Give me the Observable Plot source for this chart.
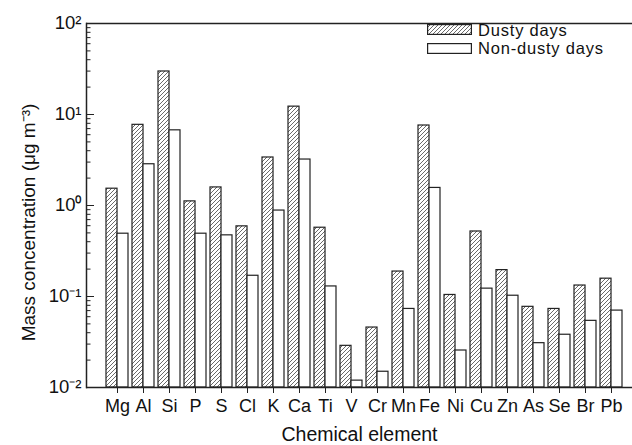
<!DOCTYPE html>
<html><head><meta charset="utf-8">
<script src="https://cdn.jsdelivr.net/npm/d3@7"></script>
<script src="https://cdn.jsdelivr.net/npm/@observablehq/plot@0.6"></script>
<style>
body{margin:0;background:#fff;font-family:"Liberation Sans",Arial,sans-serif;}
#wrap{position:relative;width:632px;height:445px;overflow:hidden;}
#legend{position:absolute;left:427px;top:20.5px;font-size:16.5px;letter-spacing:0.8px;color:#111;}
#legend div{display:flex;align-items:center;height:18.5px;line-height:18.5px;}
#legend svg{margin-right:6px;flex:none;}
</style></head>
<body>
<svg width="0" height="0" style="position:absolute">
  <defs>
    <pattern id="hatch" patternUnits="userSpaceOnUse" width="4" height="4">
      <path d="M-1,1 l2,-2 M0,4 l4,-4 M3,5 l2,-2" stroke="#444" stroke-width="0.8"/>
    </pattern>
  </defs>
</svg>
<div id="wrap">
  <div id="chart"></div>
  <div id="legend">
    <div><svg width="45" height="11"><rect x="0.6" y="0.6" width="43.8" height="9.8" fill="url(#hatch)" stroke="#222" stroke-width="1.2"/></svg>Dusty days</div>
    <div><svg width="45" height="11"><rect x="0.6" y="0.6" width="43.8" height="9.8" fill="#fff" stroke="#222" stroke-width="1.2"/></svg>Non-dusty days</div>
  </div>
</div>
<script>
const elements = ["Mg","Al","Si","P","S","Cl","K","Ca","Ti","V","Cr","Mn","Fe","Ni","Cu","Zn","As","Se","Br","Pb"];
const dusty    = [1.53, 7.7, 29.7, 1.11, 1.58, 0.59, 3.37, 12.2, 0.57, 0.0287, 0.0456, 0.188, 7.57, 0.104, 0.518, 0.195, 0.077, 0.073, 0.132, 0.157];
const nonDusty = [0.49, 2.84, 6.7, 0.49, 0.47, 0.169, 0.88, 3.2, 0.129, 0.0119, 0.0149, 0.073, 1.56, 0.0255, 0.122, 0.102, 0.0307, 0.038, 0.054, 0.070];
const yMajor = [0.01, 0.1, 1, 10, 100];
const yMajorLabels = ["10⁻²","10⁻¹","10⁰","10¹","10²"];
const yMinor = [];
for (const d of [0.01, 0.1, 1, 10]) for (let k = 2; k <= 9; k++) yMinor.push(+(d * k).toPrecision(3));

const dataD = elements.map((e, i) => ({element: e, value: dusty[i]}));
const dataN = elements.map((e, i) => ({element: e, value: nonDusty[i]}));

const font = '"Liberation Sans", Arial, sans-serif';
const chart = Plot.plot({
  width: 632, height: 445,
  marginLeft: 86, marginRight: 0, marginTop: 23, marginBottom: 58,
  style: {fontFamily: font, fontSize: "18px", color: "#111", background: "#fff"},
  x: {domain: elements, range: [98.75, 628.25], paddingInner: 0.17, paddingOuter: 0.085, label: null},
  y: {type: "log", domain: [0.01, 100], label: null},
  marks: [
    Plot.barY(dataD, {x: "element", y1: 0.01, y2: "value", insetRight: 10.99, fill: "url(#hatch)", stroke: "#222", strokeWidth: 1.2}),
    Plot.barY(dataN, {x: "element", y1: 0.01, y2: "value", insetLeft: 10.99, fill: "#fff", stroke: "#222", strokeWidth: 1.2}),
    Plot.frame({anchor: "left", stroke: "#222", strokeWidth: 1.5}),
    Plot.ruleY([0.01, 100], {stroke: "#222", strokeWidth: 1.5}),
    Plot.axisY(yMajor, {tickSize: -8, tickPadding: 13, tickFormat: (d) => yMajorLabels[yMajor.indexOf(d)], fontSize: 18.5, stroke: "#222", label: null}),
    Plot.axisY(yMinor, {tickSize: -4.5, tickFormat: () => "", stroke: "#222", label: null}),
    Plot.axisX({tickSize: 6, tickPadding: 6, fontSize: 18, stroke: "#222", label: null}),
    Plot.text(["Chemical element"], {frameAnchor: "bottom", lineAnchor: "middle", dy: 47, fontSize: 19.5, fill: "#111"}),
    Plot.text(["Mass concentration (μg m⁻³)"], {frameAnchor: "left", textAnchor: "middle", lineAnchor: "middle", rotate: -90, dx: -58, dy: 17, fontSize: 19, fill: "#111"})
  ]
});
document.getElementById("chart").appendChild(chart);
</script>
</body></html>
